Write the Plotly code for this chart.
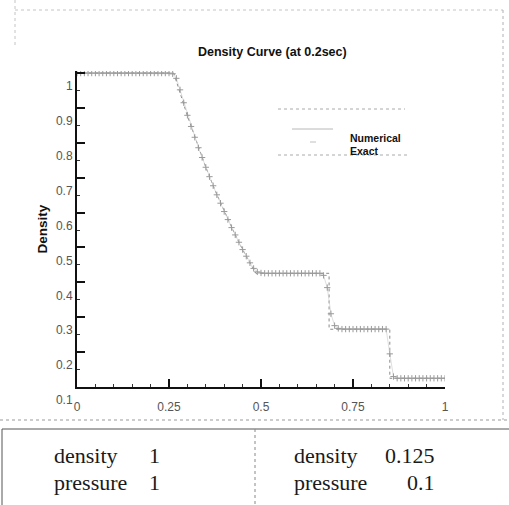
import plotly.graph_objects as go

# ---- data ----
num_x = [round(i * 0.01, 2) for i in range(101)]
num_rho = (
    [1.0] * 26 +                                   # 0.00 .. 0.25
    [0.998, 0.985, 0.952, 0.915, 0.879, 0.847, 0.816, 0.786, 0.758, 0.730,
     0.703, 0.677, 0.651, 0.627, 0.603, 0.580, 0.557, 0.536, 0.515, 0.494,
     0.475, 0.456, 0.440, 0.430, 0.427] +          # 0.26 .. 0.50
    [0.426] * 16 +                                 # 0.51 .. 0.66
    [0.420, 0.385, 0.310, 0.276, 0.268] +          # 0.67 .. 0.71
    [0.266] * 13 +                                 # 0.72 .. 0.84
    [0.195, 0.130] +                               # 0.85 .. 0.86
    [0.125] * 14                                   # 0.87 .. 1.00
)

exact_x = [0.0, 0.263, 0.30, 0.325, 0.35, 0.375, 0.40, 0.425, 0.45, 0.475,
           0.486, 0.685, 0.685, 0.850, 0.850, 1.0]
exact_rho = [1.0, 1.0, 0.8775, 0.801, 0.730, 0.664, 0.603, 0.547, 0.494, 0.445,
             0.426, 0.426, 0.2656, 0.2656, 0.125, 0.125]

x_ticks = [0, 0.25, 0.5, 0.75, 1]
x_tick_labels = ["0", "0.25", "0.5", "0.75", "1"]

title_text = "Density Curve (at 0.2sec)"
y_title = "Density"
legend_labels = ["Numerical", "Exact"]
table_left = [("density", "1"), ("pressure", "1")]
table_right = [("density", "0.125"), ("pressure", "0.1")]

W, H = 509, 505
L, R, T, B = 77, 64, 71, 118
PW, PH = W - L - R, H - T - B


def px(xp):
    return (xp - L) / PW


def py(yp):
    return (H - B - yp) / PH


fig = go.Figure()
fig.add_trace(go.Scatter(
    x=exact_x, y=exact_rho, mode="lines", name=legend_labels[1],
    line=dict(color="#8a8a8a", width=1, dash="dot"), showlegend=False))
fig.add_trace(go.Scatter(
    x=num_x, y=num_rho, mode="lines+markers", name=legend_labels[0],
    line=dict(color="#c8c8c8", width=0.6),
    marker=dict(symbol="cross-thin", size=4.5, line=dict(color="#9a9a9a", width=1)),
    showlegend=False))

shapes = []
annos = []

# title
annos.append(dict(xref="paper", yref="paper", x=px(272), y=py(52),
                  text="<b>" + title_text + "</b>",
                  showarrow=False, xanchor="center", yanchor="middle",
                  font=dict(family="Liberation Sans, Arial", size=12.5, color="#111")))


def seg(x0, x1, y, dash="dot", color="#aaaaaa", width=1):
    shapes.append(dict(type="line", xref="paper", yref="paper",
                       x0=px(x0), x1=px(x1), y0=py(y), y1=py(y),
                       line=dict(color=color, width=width, dash=dash)))


# legend (drawn as annotations / shapes)
seg(278, 405, 109)
seg(292, 333, 129, dash="solid", color="#b8b8b8")
seg(310, 316, 142, dash="solid", color="#c0c0c0")
seg(278, 410, 155)
for lbl, yy in zip(legend_labels, [138, 151]):
    annos.append(dict(xref="paper", yref="paper", x=px(348), y=py(yy), text="<b>" + lbl + "</b>",
                      showarrow=False, xanchor="left", yanchor="middle",
                      font=dict(family="Liberation Sans, Arial", size=10.5, color="#111")))


def fr(x0, y0, x1, y1, color="#c4c4c4", dash="dot", width=1):
    shapes.append(dict(type="line", xref="paper", yref="paper",
                       x0=px(x0), x1=px(x1), y0=py(y0), y1=py(y1),
                       line=dict(color=color, width=width, dash=dash)))


# scan frame artifacts
fr(15, 10, 503, 10)
fr(15, 0, 15, 45)
fr(503, 10, 503, 420, color="#b0b0b0")
fr(0, 420, 509, 420, color="#999999")

# table
fr(2, 429, 509, 429, color="#555555", dash="solid")
fr(2, 429, 2, 505, color="#555555", dash="solid")
fr(255, 429, 255, 505, color="#888888", dash="dot")

serif = dict(family="Liberation Serif, Times New Roman", size=22, color="#1a1a1a")
for (lab, val), yy in zip(table_left, [455, 482]):
    annos.append(dict(xref="paper", yref="paper", x=px(52), y=py(yy), text=lab,
                      showarrow=False, xanchor="left", yanchor="middle", font=serif))
    annos.append(dict(xref="paper", yref="paper", x=px(162), y=py(yy), text=val,
                      showarrow=False, xanchor="right", yanchor="middle", font=serif))
for (lab, val), yy in zip(table_right, [455, 482]):
    annos.append(dict(xref="paper", yref="paper", x=px(292), y=py(yy), text=lab,
                      showarrow=False, xanchor="left", yanchor="middle", font=serif))
    annos.append(dict(xref="paper", yref="paper", x=px(437), y=py(yy), text=val,
                      showarrow=False, xanchor="right", yanchor="middle", font=serif))

fig.update_layout(
    width=W, height=H, margin=dict(l=L, r=R, t=T, b=B),
    paper_bgcolor="white", plot_bgcolor="white",
    shapes=shapes, annotations=annos, showlegend=False,
    font=dict(family="Liberation Sans, Arial", size=11, color="#555555"),
)
fig.update_xaxes(
    range=[0, 1], tickvals=x_ticks, ticktext=x_tick_labels,
    showgrid=False, zeroline=False, showline=True, linecolor="#111", linewidth=2,
    ticks="inside", ticklen=8, tickwidth=1.5, tickcolor="#111",
    minor=dict(dtick=0.05, ticks="inside", ticklen=3, tickcolor="#333", tickwidth=1),
    tickfont=dict(size=12, color="#555"), ticklabelstandoff=8,
)
fig.update_yaxes(
    range=[0.1, 1.006], dtick=0.1, tick0=0.1,
    showgrid=False, zeroline=False, showline=True, linecolor="#111", linewidth=2,
    ticks="inside", ticklen=8, tickwidth=1.5, tickcolor="#111",
    minor=dict(dtick=0.05, ticks="inside", ticklen=3, tickcolor="#333", tickwidth=1),
    tickfont=dict(size=12, color="#555"), ticklabelshift=13,
    title=dict(text="<b>" + y_title + "</b>", font=dict(size=13.5, color="#111"), standoff=5),
)

fig.write_html("out.html")
